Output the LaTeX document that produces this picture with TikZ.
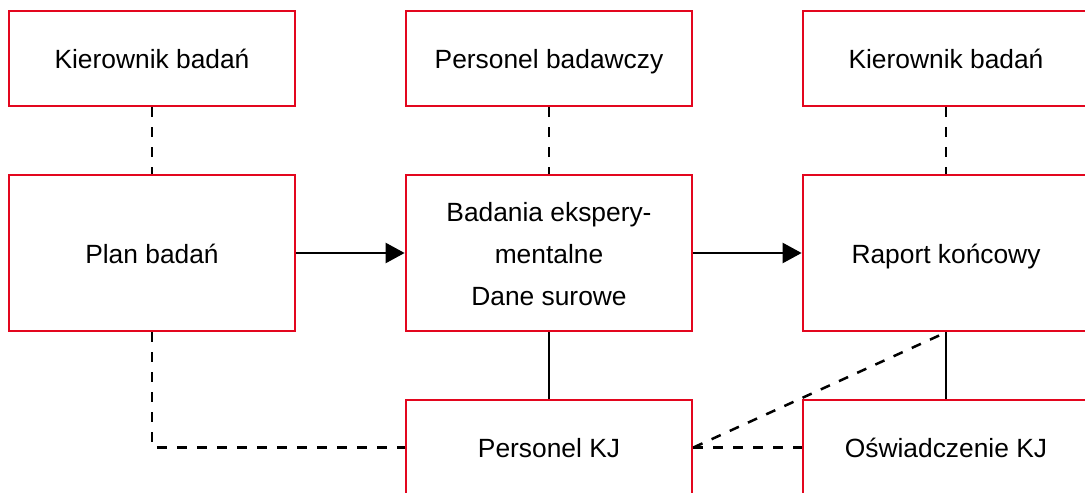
\documentclass[tikz,border=0pt]{standalone}
\usepackage{fontspec}
\setmainfont{Liberation Sans}
\usepackage{tikz}
\usetikzlibrary{arrows.meta, positioning}
\definecolor{boxred}{RGB}{227, 6, 30}

\begin{document}
\begin{tikzpicture}[line join=miter, >={Triangle[length=0.38cm,width=0.4cm]}, font=\fontsize{15}{23.8}\selectfont]
	\tikzset{box/.style={draw=boxred, line width=0.055cm, minimum width=5.72cm, minimum height=1.9cm, align=center, inner sep=0pt, text height=4.8mm, text depth=0.6mm},
		tallbox/.style={box, minimum height=3.12cm},
		link/.style={line width=0.05cm},
		dashlink/.style={link, dash pattern=on 0.2cm off 0.2cm}}
	\useasboundingbox (0,0) rectangle (21.7,9.84);
	
	% people on top
	\node[box] (lead1) at (3.04,8.67) {Kierownik badań};
	\node[box] (crew) at (10.98,8.67) {Personel badawczy};
	\node[box] (lead2) at (18.92,8.67) {Kierownik badań};
	
	% main steps
	\node[tallbox] (plan) at (3.04,4.78) {Plan badań};
	\node[tallbox, text height=21.4mm, text depth=0.4mm] (tests) at (10.98,4.78) {Badania ekspery-\\mentalne\\Dane surowe};
	\node[tallbox] (report) at (18.92,4.78) {Raport końcowy};
	
	% quality unit
	\node[box] (staff) at (10.98,0.89) {Personel KJ};
	\node[box] (statement) at (18.92,0.89) {Oświadczenie KJ};
	
	\draw[dashlink] (lead1) -- (plan);
	\draw[dashlink] (crew) -- (tests);
	\draw[dashlink] (lead2) -- (report);
	\draw[link,->] (plan) -- (tests);
	\draw[link,->] (tests) -- (report);
	\draw[link] (tests) -- (staff);
	\draw[link] (report) -- (statement);
	\draw[dashlink] (plan.south) |- (staff.west);
	\draw[dashlink] (staff.east) -- (statement.west);
	\draw[dashlink] (staff.east) -- (report.south);

\end{tikzpicture}
\end{document}
